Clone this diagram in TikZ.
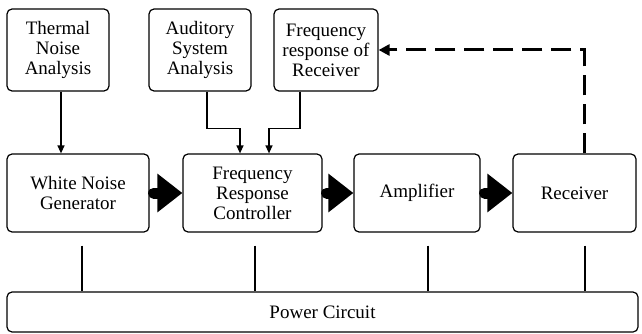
\documentclass[tikz,border=0pt]{standalone}
\usepackage{fontspec}
\setmainfont{Liberation Serif}
\usetikzlibrary{arrows.meta, positioning}

\begin{document}
\begin{tikzpicture}[x=1pt, y=-1pt, font=\fontsize{19}{20}\selectfont,
      b/.style={draw, line width=1.2pt, rounded corners=5pt, align=center, inner sep=0pt},
      wire/.style={line width=1.3pt},
      thin/.style={wire, -{Triangle[length=8pt, width=7pt]}},
      blk/.style={line width=11pt, line cap=round, -{Triangle[length=25pt, width=37pt]}},
      feed/.style={line width=3pt, dash pattern=on 20pt off 9pt, -{Triangle[length=11pt, width=11pt]}}]
    \useasboundingbox (0,0) rectangle (642,334);
    % analysis blocks
    \node[b, minimum width=102pt, minimum height=82pt] (tna) at (58,50) {Thermal\\Noise\\Analysis};
    \node[b, minimum width=102pt, minimum height=82pt] (aud) at (200,50) {Auditory\\System\\Analysis};
    \node[b, minimum width=104pt, minimum height=82pt] (frr) at (326,50) {Frequency\\response of\\Receiver};
    % signal chain
    \node[b, minimum width=142pt, minimum height=78pt] (wng) at (78,193) {White Noise\\Generator};
    \node[b, minimum width=139pt, minimum height=78pt] (frc) at (252.5,193) {Frequency\\Response\\Controller};
    \node[b, minimum width=126pt, minimum height=78pt] (amp) at (417,193) {Amplifier};
    \node[b, minimum width=123pt, minimum height=78pt] (rcv) at (574.5,193) {Receiver};
    \node[b, minimum width=631pt, minimum height=40pt] (pwr) at (322.5,312) {Power Circuit};

    \draw[thin] ([xshift=3pt]tna.south) -- ([xshift=3pt]tna.south |- wng.north);
    \draw[thin] ([xshift=7pt]aud.south) -- ++(0,37) -| ([xshift=-12.5pt]frc.north);
    \draw[thin] ([xshift=-26pt]frr.south) -- ++(0,37) -| ([xshift=16.5pt]frc.north);

    \draw[blk] ([xshift=4pt]wng.east) -- (frc.west);
    \draw[blk] ([xshift=4pt]frc.east) -- (amp.west);
    \draw[blk] ([xshift=4pt]amp.east) -- (rcv.west);

    \draw[feed] ([xshift=9.5pt]rcv.north) |- (frr.east);

    % supply lines
    \foreach \n/\dx in {wng/4, frc/2.5, amp/11, rcv/10.5}
      \draw[wire] ([xshift=\dx pt, yshift=-13pt]\n.south) -- ([xshift=\dx pt]\n.south |- pwr.north);
\end{tikzpicture}
\end{document}
